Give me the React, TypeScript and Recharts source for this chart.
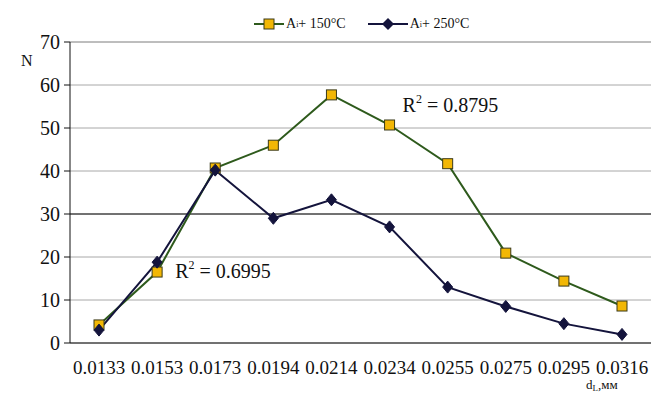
import { LineChart, Line, XAxis, YAxis, CartesianGrid, ReferenceDot, ReferenceLine } from "recharts";

const categories = ["0.0133", "0.0153", "0.0173", "0.0194", "0.0214", "0.0234", "0.0255", "0.0275", "0.0295", "0.0316"];
const series150 = [4.2, 16.5, 40.7, 46, 57.7, 50.7, 41.7, 20.9, 14.4, 8.6];
const series250 = [3, 18.8, 40.2, 29, 33.3, 27, 13, 8.5, 4.5, 2];
const yTicks = [0, 10, 20, 30, 40, 50, 60, 70];

const data = categories.map((c, i) => ({ d: c, a150: series150[i], a250: series250[i] }));

const FONT = "'Liberation Serif', 'Times New Roman', serif";
const GREEN = "#2e5a1c";
const NAVY = "#14143c";

const XTick = (props: any) => {
  const { x, y, payload } = props;
  return (
    <text x={x} y={y + 23} textAnchor="middle" style={{ fontFamily: FONT, fontSize: 19, fill: "#111" }}>
      {payload.value}
    </text>
  );
};

const YTick = (props: any) => {
  const { x, y, payload } = props;
  return (
    <text x={x - 2} y={y + 7} textAnchor="end" style={{ fontFamily: FONT, fontSize: 20, fill: "#111" }}>
      {payload.value}
    </text>
  );
};

const Square = (props: any) => {
  const { cx, cy } = props;
  if (cx == null || cy == null) return null;
  return <rect x={cx - 5} y={cy - 5} width={10} height={10} fill="#f2b705" stroke="#3a3a1a" strokeWidth={1} />;
};

const Diamond = (props: any) => {
  const { cx, cy } = props;
  if (cx == null || cy == null) return null;
  return <polygon points={`${cx},${cy - 6} ${cx + 5},${cy} ${cx},${cy + 6} ${cx - 5},${cy}`} fill={NAVY} stroke={NAVY} />;
};

const R2Label = (text: string, dx: number) => (props: any) => {
  const { viewBox } = props;
  const x = viewBox.x + dx;
  const y = viewBox.y + 7;
  return (
    <text x={x} y={y} style={{ fontFamily: FONT, fontSize: 20, fill: "#111" }}>
      R<tspan dy={-9} fontSize={12}>2</tspan>
      <tspan dy={9}> = {text}</tspan>
    </text>
  );
};

const LegendBox = () => (
  <div style={{ position: "absolute", left: 254, top: 16, display: "flex", gap: 22, fontFamily: FONT, fontSize: 14, color: "#111" }}>
    <span style={{ display: "flex", alignItems: "center" }}>
      <svg width={30} height={12} style={{ marginRight: 2 }}>
        <line x1={0} y1={6} x2={30} y2={6} stroke={GREEN} strokeWidth={2} />
        <rect x={10} y={1} width={10} height={10} fill="#f2b705" stroke="#3a3a1a" />
      </svg>
      A<sub style={{ fontSize: 8 }}>i</sub>+ 150°C
    </span>
    <span style={{ display: "flex", alignItems: "center" }}>
      <svg width={40} height={12} style={{ marginRight: 2 }}>
        <line x1={0} y1={6} x2={40} y2={6} stroke={NAVY} strokeWidth={2} />
        <polygon points="20,0 26,6 20,12 14,6" fill={NAVY} />
      </svg>
      A<sub style={{ fontSize: 8 }}>i</sub>+ 250°C
    </span>
  </div>
);

export default function App() {
  return (
    <div style={{ position: "absolute", left: 0, top: 0, width: 653, height: 395, background: "#fff" }}>
      <LineChart width={653} height={395} data={data} margin={{ top: 42, right: 2, left: 30, bottom: 12 }}>
        <CartesianGrid vertical={false} stroke="#a8a8a8" />
        <XAxis
          dataKey="d"
          stroke="#111"
          tickLine={false}
          height={40}
          padding={{ left: 29, right: 29 }}
          interval={0}
          tick={<XTick />}
        />
        <YAxis
          domain={[0, 70]}
          ticks={yTicks}
          width={40}
          stroke="#111"
          tickSize={6}
          tick={<YTick />}
          interval={0}
        />
        <ReferenceLine y={70} stroke="#a8a8a8" />
        <ReferenceLine y={30} stroke="#111" />
        <Line dataKey="a150" stroke={GREEN} strokeWidth={2} dot={<Square />} isAnimationActive={false} name="150" />
        <Line dataKey="a250" stroke={NAVY} strokeWidth={2} dot={<Diamond />} isAnimationActive={false} name="250" />
        <ReferenceDot x="0.0234" y={55.3} r={0} label={R2Label("0.8795", 13)} />
        <ReferenceDot x="0.0173" y={16.7} r={0} label={R2Label("0.6995", -40)} />
      </LineChart>
      <LegendBox />
      <div style={{ position: "absolute", left: 21, top: 52, fontFamily: FONT, fontSize: 16, color: "#111" }}>N</div>
      <svg style={{ position: "absolute", left: 580, top: 377, overflow: "visible" }} width={72} height={18}>
        <text x={6} y={12} style={{ fontFamily: FONT, fontSize: 13, fill: "#111" }}>
          d<tspan dy={2} fontSize={9}>L</tspan>
          <tspan dy={-2}>,мм</tspan>
        </text>
      </svg>
    </div>
  );
}
